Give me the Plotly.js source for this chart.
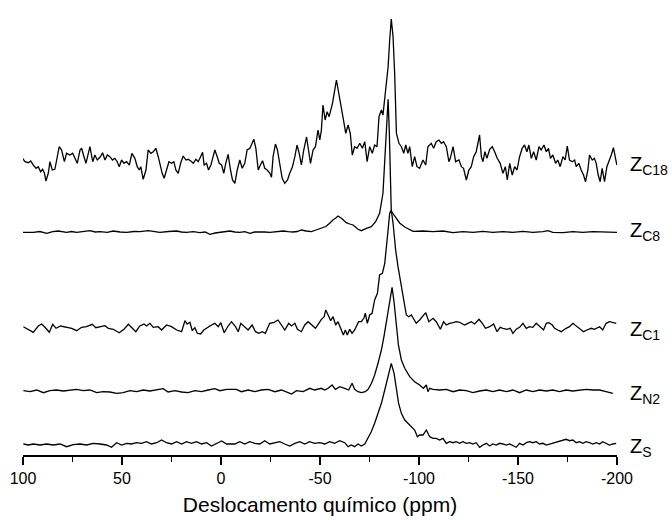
<!DOCTYPE html>
<html>
<head>
<meta charset="utf-8">
<script src="https://cdn.plot.ly/plotly-3.0.1.min.js"></script>
<style>html,body{margin:0;padding:0;background:#fff;}#chart{width:672px;height:520px;}</style>
</head>
<body>
<div id="chart"></div>
<script>
// Spectrum labels (top to bottom)
const labels = ['Z<sub>C18</sub>', 'Z<sub>C8</sub>', 'Z<sub>C1</sub>', 'Z<sub>N2</sub>', 'Z<sub>S</sub>'];

// ---- Z_C18 : chemical shift (ppm) and relative intensity ----
const c18Ppm = [100.2,99.0,97.3,96.1,94.8,93.4,92.3,91.1,90.1,89.2,88.4,87.2,86.4,85.2,83.9,82.7,81.7,80.5,79.1,78.0,76.3,74.9,73.8,72.6,71.2,70.4,69.2,68.2,66.2,64.8,63.7,62.5,61.1,59.8,58.6,57.4,56.1,54.8,53.6,52.4,51.4,50.2,49.0,47.7,46.3,45.0,43.5,42.3,41.3,40.5,39.3,37.9,36.8,35.4,34.2,32.9,31.7,30.9,29.7,28.7,27.5,26.3,25.0,23.8,22.8,21.6,20.4,19.1,17.7,16.6,15.4,14.0,12.7,11.5,10.3,9.3,8.5,7.3,6.3,5.1,4.0,3.1,1.9,0.9,-0.3,-1.4,-2.4,-3.6,-4.8,-5.8,-7.0,-8.2,-9.5,-10.7,-12.0,-13.2,-14.6,-15.4,-16.6,-17.6,-18.8,-19.9,-21.0,-22.1,-23.3,-24.7,-25.5,-26.3,-27.5,-28.5,-29.7,-30.9,-32.2,-33.6,-34.7,-36.1,-37.3,-38.4,-39.5,-40.6,-41.8,-43.2,-44.2,-45.2,-46.5,-47.7,-49.0,-49.9,-50.7,-51.5,-52.6,-53.6,-54.6,-56.3,-58.3,-59.5,-60.8,-62.0,-63.0,-64.2,-65.3,-66.3,-67.5,-68.7,-70.1,-71.4,-72.6,-73.8,-75.1,-76.4,-77.6,-78.8,-79.8,-81.0,-81.8,-83.2,-84.4,-85.2,-86.0,-86.9,-87.7,-88.6,-89.9,-91.1,-92.3,-93.3,-94.4,-95.3,-96.6,-97.8,-99.0,-100.3,-102.0,-103.4,-104.5,-106.2,-107.4,-108.7,-110.1,-111.3,-112.4,-113.8,-115.1,-115.8,-117.2,-118.5,-120.2,-121.4,-122.5,-123.9,-125.2,-126.4,-127.6,-128.9,-130.6,-131.5,-132.3,-133.3,-134.3,-135.7,-137.0,-138.2,-139.5,-141.0,-142.4,-143.6,-144.6,-145.8,-147.1,-148.3,-149.5,-150.8,-152.1,-153.3,-154.5,-155.5,-156.7,-157.9,-159.2,-160.6,-161.7,-163.1,-164.3,-165.4,-166.4,-167.6,-169.0,-170.1,-171.3,-172.7,-173.8,-174.9,-176.0,-177.4,-178.6,-179.4,-180.7,-181.9,-183.1,-184.1,-185.3,-186.1,-187.5,-188.6,-189.5,-190.5,-191.5,-192.5,-193.7,-194.9,-195.9,-197.1,-198.2,-199.2,-199.9];
const c18Int = [4.7,1.3,0.3,2,-2,-5.3,-3.7,-8.7,-6.3,-10,-18,-10,1.3,-7,-6.3,4.7,16.3,13,1.3,9.7,8,9.7,4.7,-0.3,13,14.7,6.3,-0.3,16.3,1.3,8,3,5.7,10.3,3,8,6.3,3,4.7,1.3,-3.7,3,-0.3,1.3,-2,9.7,4.7,-3.7,-7,-3.7,-16.3,-7,13,9.7,11.3,14.7,6.3,-0.3,-10.3,-15.3,-7,1.3,-0.3,1.3,-7,-10.3,-0.3,7,3,3.7,2.3,-0.3,3.7,1.3,6.3,10.7,-2,-0.3,-7,-2,6.3,13,6.3,-0.3,-2,-10.3,-0.3,8.7,-7,-17,-20.3,-7,3,-5.3,-0.3,13,14.7,18,23.7,14.7,-7,-2,2.3,-5.3,-7,-10.3,-14.3,6.3,19,13,-0.3,-15.3,-20.3,-17,-10.3,-3.7,6.3,18,9.7,-2,13,26,13,-0.3,13,16.3,33,23,33,58,43,51.3,46.3,59.7,83,68,56.3,41.3,29.7,38,29.7,8,16.3,14.7,19.7,14.7,21.3,1.3,16.3,9.7,18,16.3,46.3,53,48,73,96.3,123,144,126.3,89.7,29.7,19.7,16.3,9.7,18,9.7,16.3,-3.7,6.3,-3.7,-5.3,3,-2,16.3,19.7,14.7,21.3,23,19.7,21.3,16.3,1.3,4.7,16.3,1.3,3,-3.7,-5.3,-17,-7,-3.7,6.3,11.3,28,6.3,1.3,11.3,4.7,13.7,16.3,11.3,4.7,-0.3,-10.3,-3.7,-17,-0.3,-12,-3.7,-7,6.3,14.7,18,11.3,18,4.7,11.3,3,16.3,13,18,11.3,14.7,4.7,8,-0.3,3,-3.7,6.3,3,17,3,1.3,3,-3.7,-0.3,-7,-12,-18.7,-7,8,3,4.7,-0.3,-12,-18.7,-5.3,-18.7,-3.7,1.3,8,15.3,6.3,-2];

// ---- Z_C8 ----
const c8Ppm = [100.2,94.8,91.5,88.0,85.0,82.2,78.0,75.5,72.9,69.5,66.2,63.5,61.1,57.5,54.4,51.0,47.7,44.0,40.9,36.7,33.5,30.9,26.5,22.4,20.0,17.4,14.0,10.7,8.0,5.6,3.0,0.6,-2.0,-4.5,-7.0,-9.5,-12.0,-14.6,-17.0,-19.6,-22.0,-24.7,-28.0,-31.4,-34.0,-36.4,-38.5,-40.6,-43.0,-45.7,-48.0,-50.7,-52.9,-54.9,-56.5,-58.3,-59.1,-60.8,-63.3,-65.0,-66.7,-69.2,-70.9,-73.4,-75.9,-78.1,-80.1,-81.8,-83.0,-83.8,-84.4,-85.0,-85.5,-86.0,-87.7,-90.2,-92.8,-95.0,-97.0,-102.0,-107.0,-112.1,-117.2,-122.2,-127.3,-132.3,-137.3,-142.4,-147.4,-152.5,-157.5,-162.6,-165.1,-167.6,-172.7,-177.7,-182.8,-187.8,-192.8,-197.9,-200.0];
const c8Int = [-0.3,-0.3,0.5,-1.3,0.3,1,-0.3,0.5,-0.3,0.5,1.3,0,0.3,-0.3,1,0,-0.3,0.5,0.3,1.3,0,-0.3,0.5,1,0,-0.3,0.3,-0.7,0,-2.3,-1,-0.3,0.3,1,0,-0.3,0.3,-1.3,0,0.3,0,-0.3,0.5,1,0.3,0,0.5,2,1,0.3,2,3.7,5.5,8.7,12,14.5,16,13.7,9.3,8,7,2.7,1.3,3.7,5.3,10.3,18.7,38.7,78.7,115.3,132.7,100,55,21,16,9,5,3,0.7,1,0.3,1,-0.7,0.3,-0.3,0.7,-0.3,0.3,-0.3,0.7,-0.3,0.3,1.3,-0.3,-0.7,0.3,-0.3,0.3,0,0.3,-0.3];

// ---- Z_C1 ----
const c1Ppm = [99.8,97.3,94.8,92.3,90.6,88.9,86.7,85.0,83.3,81.0,78.0,75.4,72.9,70.4,67.9,65.0,63.2,61.1,58.6,56.9,54.4,51.4,49.0,46.8,45.2,43.0,41.0,38.9,37.6,35.9,34.2,31.7,30.0,27.5,25.0,22.4,19.9,18.2,17.1,15.7,14.5,13.2,12.0,10.3,8.7,6.5,4.8,3.1,1.4,0.1,-1.6,-3.6,-5.3,-7.3,-8.7,-10.0,-11.7,-13.7,-15.7,-17.4,-19.1,-20.8,-22.4,-24.6,-26.8,-28.8,-30.5,-32.2,-34.2,-35.6,-37.3,-38.6,-40.6,-42.3,-44.0,-46.0,-47.7,-49.4,-50.7,-52.1,-52.9,-54.1,-55.4,-56.6,-57.9,-59.1,-60.5,-61.8,-62.8,-63.8,-65.0,-66.2,-67.5,-68.4,-69.5,-70.9,-72.2,-72.9,-73.9,-75.1,-76.3,-77.6,-79.0,-80.1,-81.5,-82.7,-83.5,-84.4,-85.2,-86.0,-86.9,-88.2,-89.4,-91.1,-92.4,-93.6,-94.8,-96.1,-98.6,-100.3,-103.4,-105.0,-107.1,-108.7,-110.8,-112.4,-113.8,-115.5,-117.2,-118.8,-120.5,-123.0,-124.7,-126.4,-128.1,-130.3,-132.0,-133.6,-135.7,-137.7,-139.4,-141.0,-142.4,-144.4,-146.1,-147.4,-149.1,-150.8,-152.5,-154.2,-155.8,-157.5,-159.2,-160.9,-162.9,-164.3,-165.6,-167.3,-168.5,-170.1,-171.8,-174.3,-176.0,-177.7,-179.4,-181.1,-183.1,-184.8,-187.0,-188.6,-191.2,-192.8,-194.5,-196.2,-197.9,-199.6];
const c1Int = [0.3,-2.3,-5.3,1,3,-0.3,-5.3,2.7,-1.3,1,-0.3,-1.3,-3.7,-0.3,0.3,2.7,-0.7,0.3,1.3,-1.3,-2.3,-5.7,-2.3,2.7,-0.3,-4.7,1,3,1,3.7,-0.3,0.3,-3,2,0.3,-3,-4.7,6.3,3,4.7,-3.7,-0.7,-6.3,-7,-3,0.3,2,3.7,0.3,4.3,-5.7,1,5.3,0.3,-4.7,3.7,1,-3,2,-4.7,-6.3,-4.7,-6.3,3.7,4.7,7,2,-3,3.7,1,3.7,-2.3,-4.7,2,5.3,2,-1.3,3.7,7.7,10.3,17,12,6.3,10.3,2,5.3,-1.3,-8,-3,-8,-2.3,-6.3,-3,0.3,5.3,5.3,9,13.7,3.7,12,13.7,27,33.7,52,53.7,63.7,77,97,113.7,117,103.7,77,60.3,40.3,27,12,10.3,12,3.7,7,14.3,5.3,8.7,5.3,-2.3,5.3,2,3.7,4.3,5.3,4.7,2,3.7,5.3,3,7.7,3.7,-1.3,0.3,3,-4.7,-0.3,-1.3,-2.3,-1.3,-6.3,-2.3,-0.3,3.7,-1.3,0.3,-0.3,3.7,1,-3,3.7,4.3,2,-1.3,-3,-4.7,-1.3,0.3,3.7,1,-1.3,-4.7,-3,-1.3,-2.3,0.3,-3,3.7,5.3,4.3,3.7];

// ---- Z_N2 ----
const n2Ppm = [99.8,96.5,93.1,89.7,86.4,83.0,79.6,76.3,72.9,69.5,66.2,62.8,59.5,56.1,52.7,49.4,46.0,42.6,39.3,35.9,32.5,29.2,26.7,23.3,19.9,16.6,13.2,9.8,6.5,3.1,0.6,-2.8,-7.8,-10.3,-13.7,-17.1,-20.4,-23.8,-27.2,-30.5,-33.9,-35.6,-38.1,-41.5,-44.8,-47.3,-50.7,-52.4,-54.1,-56.1,-57.8,-60.0,-62.5,-64.5,-66.2,-67.5,-69.2,-70.9,-72.9,-74.3,-76.0,-77.6,-79.3,-81.0,-82.3,-83.5,-84.7,-85.7,-86.4,-87.4,-88.4,-89.6,-91.1,-92.8,-95.3,-97.8,-100.3,-102.2,-103.7,-104.5,-105.4,-107.1,-110.4,-113.8,-117.2,-120.5,-123.9,-127.2,-130.6,-134.0,-137.3,-140.7,-144.1,-147.4,-150.8,-154.2,-157.5,-160.9,-164.3,-167.6,-171.0,-174.3,-177.7,-181.1,-184.4,-187.8,-191.2,-194.5,-197.9,-200.0];
const n2Int = [1.3,0.3,2,-0.7,1.3,2,1,2,2.7,1.3,2,-0.7,0.3,0,-1.3,-0.7,1.3,0.3,2,1,2,3.3,0,1.3,0,-0.7,1.3,0.3,2,3.3,1.3,2.7,2.7,0.3,2,0.3,2,2.7,0.3,2,-0.7,-2,1.3,0.3,3.7,2,3.7,2,3.7,7,2.7,5.3,3.7,2,8.7,2.7,0.3,-0.7,0.3,2.7,8.7,17,28.7,42,55.3,68.7,82,95.3,104.7,90,70,47,32,23.7,15.3,10.3,7,3.7,7,0.3,3.7,2.7,2,2.7,0.3,2,1.3,-0.7,1,2,0.3,2,0.3,2,-0.7,2,0.3,2,1,2,0.3,2,1,2,2.7,2,2,0.3,-1.3];

// ---- Z_S ----
const sPpm = [99.8,97.3,94.8,91.4,88.1,84.7,81.3,78.0,74.6,71.2,67.9,64.5,61.1,57.8,55.3,52.7,50.2,47.7,45.2,42.6,40.1,37.6,35.1,32.5,30.0,27.5,25.0,22.4,19.9,17.4,14.9,12.4,9.8,7.3,4.8,2.3,-0.3,-2.8,-7.0,-9.5,-12.0,-14.5,-17.1,-19.6,-22.1,-24.6,-27.2,-29.7,-32.2,-34.7,-37.3,-39.8,-42.3,-44.8,-47.3,-49.9,-52.4,-54.9,-57.4,-59.9,-62.5,-64.2,-65.8,-67.5,-69.2,-70.9,-72.6,-74.3,-75.9,-77.6,-79.3,-81.0,-82.7,-84.4,-86.0,-87.4,-88.6,-89.7,-91.1,-92.8,-94.4,-96.1,-97.8,-99.2,-100.3,-102.0,-103.7,-105.4,-107.1,-108.7,-110.4,-112.1,-113.8,-115.5,-117.2,-118.8,-120.5,-122.2,-123.9,-125.6,-127.2,-128.9,-130.6,-132.3,-134.0,-135.7,-137.3,-139.0,-140.7,-142.4,-144.1,-145.8,-147.4,-149.1,-150.8,-152.5,-154.2,-155.8,-157.5,-159.2,-160.9,-162.6,-164.3,-166.0,-167.6,-169.3,-171.0,-172.7,-174.3,-176.0,-177.7,-179.4,-181.1,-182.8,-184.4,-186.1,-187.8,-189.5,-191.2,-192.8,-194.5,-196.2,-197.9,-199.6];
const sInt = [1,0,1,0,1,0,1,-1.7,0.3,1,0,1.7,1,0,-2.3,2.3,0,1.7,1,2.3,1.7,3.3,1,2.3,5,2.3,1,3.3,1,3.3,1.7,3.3,1,2.3,-1,1.7,4,1,1,3.3,1,3.3,1.7,1,4.3,1,2.3,3.3,1,-1,1.7,3.3,1,3.3,1.7,2.3,1,3.3,1.7,4.3,2.3,-1.7,0,-1.7,1,-1,1,6.7,13.3,21.7,31.7,41.7,55,68.3,81.7,71.7,55,41.7,31.7,25,21.7,18.3,15,8.3,10,10,15,8.3,6.7,6.7,5,6.7,1.7,3.3,2.3,3.3,1.7,3.3,1.7,2.3,1,2.3,-2.3,0,1.7,-1,1,0,1.7,1,0,1,-1,-2.3,1.7,0,2.3,3.3,2.3,3.3,1,1.7,0,1,1.7,2.3,3.3,5,5.7,4.3,5,2.3,3.3,1.7,3.3,2.3,1,2.3,1,3.3,1.7,0,1,1.7];

// vertical stacking offsets (plot units; 1 unit ~ 1 px)
const offsets = [292, 223, 128, 63, 10];
const series = [[c18Ppm, c18Int], [c8Ppm, c8Int], [c1Ppm, c1Int], [n2Ppm, n2Int], [sPpm, sInt]];
const labelY = [290, 224, 125, 61, 8];

const font = 'Liberation Sans, Arial, Helvetica, sans-serif';
const traces = series.map((s, i) => ({
  type: 'scatter', mode: 'lines',
  x: s[0], y: s[1].map(v => v + offsets[i]),
  line: {color: '#000', width: 1.3},
  hoverinfo: 'skip', showlegend: false
}));

const annotations = labels.map((t, i) => ({
  xref: 'paper', yref: 'y', x: 1.018, y: labelY[i],
  xanchor: 'left', yanchor: 'middle', showarrow: false,
  text: t, font: {family: font, size: 20, color: '#000'}
}));

const layout = {
  width: 672, height: 520,
  margin: {l: 23, r: 55, t: 10, b: 65},
  paper_bgcolor: '#fff', plot_bgcolor: '#fff',
  showlegend: false,
  xaxis: {
    range: [100, -200], autorange: false,
    showgrid: false, zeroline: false,
    showline: true, linecolor: '#000', linewidth: 1.5,
    ticks: 'outside', ticklen: 8, tickwidth: 1.3, tickcolor: '#000',
    tickvals: [100, 50, 0, -50, -100, -150, -200],
    ticktext: ['100', '50', '0', '-50', '-100', '-150', '-200'],
    tickfont: {family: font, size: 16, color: '#000'},
    minor: {ticks: 'outside', ticklen: 5, tickwidth: 1.3, tickcolor: '#000', tickvals: [75, 25, -25, -75, -125, -175], showgrid: false},
    title: {text: 'Deslocamento químico (ppm)', font: {family: font, size: 21, color: '#000'}, standoff: 11},
    automargin: false
  },
  yaxis: {visible: false, range: [0, 445], autorange: false, fixedrange: true},
  annotations: annotations
};

Plotly.newPlot('chart', traces, layout, {staticPlot: true, displayModeBar: false});
</script>
</body>
</html>
